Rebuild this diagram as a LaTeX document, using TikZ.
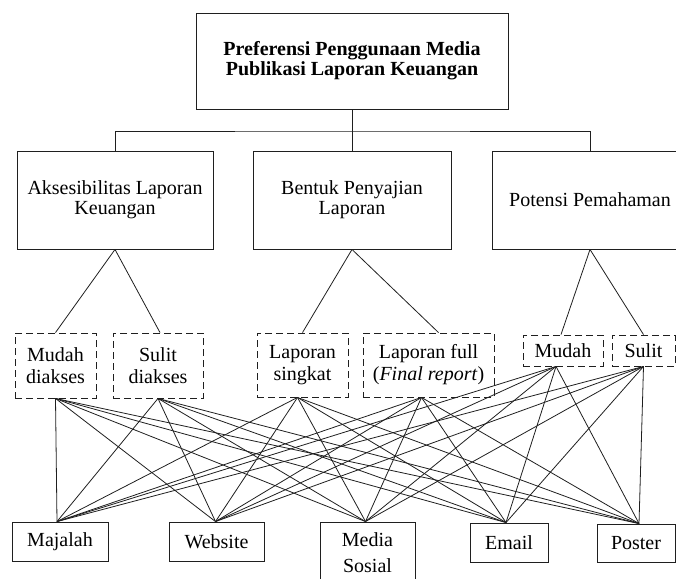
\documentclass[tikz,border=0pt]{standalone}
\usepackage{fontspec}
\setmainfont{Liberation Serif}
\usetikzlibrary{calc}
\definecolor{ink}{gray}{0.12}

\tikzset{
  solidbox/.style={draw=ink, line width=0.9pt, align=center, inner sep=0pt,
    font=\fontsize{20}{20}\selectfont},
  dashbox/.style={draw=ink, line width=0.9pt, dash pattern=on 7pt off 4pt,
    align=center, inner sep=0pt, font=\fontsize{20}{22}\selectfont},
  link/.style={draw=ink, line width=0.8pt}
}

\begin{document}
\begin{tikzpicture}[x=1pt,y=-1pt]
  \useasboundingbox (0,0) rectangle (676,578);
  % top of the tree
  \node[solidbox, minimum width=312pt, minimum height=96pt, font=\fontsize{20}{20}\selectfont\bfseries]
    (pref) at (352,61) {Preferensi Penggunaan Media\\Publikasi Laporan Keuangan};
  \node[solidbox, minimum width=196pt, minimum height=98pt] (aks) at (115,200) {Aksesibilitas Laporan\\Keuangan};
  \node[solidbox, minimum width=198pt, minimum height=98pt] (bentuk) at (352,200) {Bentuk Penyajian\\Laporan};
  \node[solidbox, minimum width=196pt, minimum height=98pt] (potensi) at (590,200) {Potensi Pemahaman};
  \coordinate (bar) at (352,131);
  \draw[link] (pref.south) -- (bar);
  \draw[link] (aks.north) |- (bar) -| (potensi.north);
  \draw[link] (bar) -- (bentuk.north);
  % indicators
  \node[dashbox, minimum width=81pt, minimum height=65pt] (mudahdi) at (55.5,365.5) {Mudah\\diakses};
  \node[dashbox, minimum width=90pt, minimum height=65pt] (sulitdi) at (158,365.5) {Sulit\\diakses};
  \node[dashbox, minimum width=91pt, minimum height=64pt] (singkat) at (302.5,365) {Laporan\\singkat};
  \node[dashbox, minimum width=131pt, minimum height=64pt] (full) at (428.5,365) {Laporan full\\(\textit{Final report})};
  \node[dashbox, minimum width=80pt, minimum height=31pt] (mudah) at (563,350.5) {Mudah};
  \node[dashbox, minimum width=63pt, minimum height=31pt] (sulit) at (643.5,350.5) {Sulit};
  \draw[link] (aks.south) -- (mudahdi.north);
  \draw[link] (aks.south) -- ([xshift=2pt]sulitdi.north);
  \draw[link] (bentuk.south) -- (singkat.north);
  \draw[link] (bentuk.south) -- ([xshift=10pt]full.north);
  \draw[link] (potensi.south) -- ([xshift=-2pt]mudah.north);
  \draw[link] (potensi.south) -- (sulit.north);
  % media
  \node[solidbox, minimum width=96pt, minimum height=39pt] (majalah) at (60,541.5) {Majalah};
  \node[solidbox, minimum width=95pt, minimum height=39pt] (website) at (216.5,541.5) {Website};
  \node[solidbox, minimum width=95pt, minimum height=62pt, font=\fontsize{20}{26}\selectfont]
    (medsos) at (367.5,553) {Media\\Sosial};
  \node[solidbox, minimum width=78pt, minimum height=39pt] (email) at (509,542.5) {Email};
  \node[solidbox, minimum width=78pt, minimum height=38pt] (poster) at (636,543) {Poster};
  % every indicator to every medium
  \foreach \u/\du in {mudahdi/0,sulitdi/0,singkat/-5,full/-7,mudah/-7,sulit/0}
    \foreach \v/\dv in {majalah/-3,website/-1,medsos/-2,email/-3,poster/3}
      \draw[link] ([xshift=\du pt]\u.south) -- ([xshift=\dv pt]\v.north);
\end{tikzpicture}
\end{document}
